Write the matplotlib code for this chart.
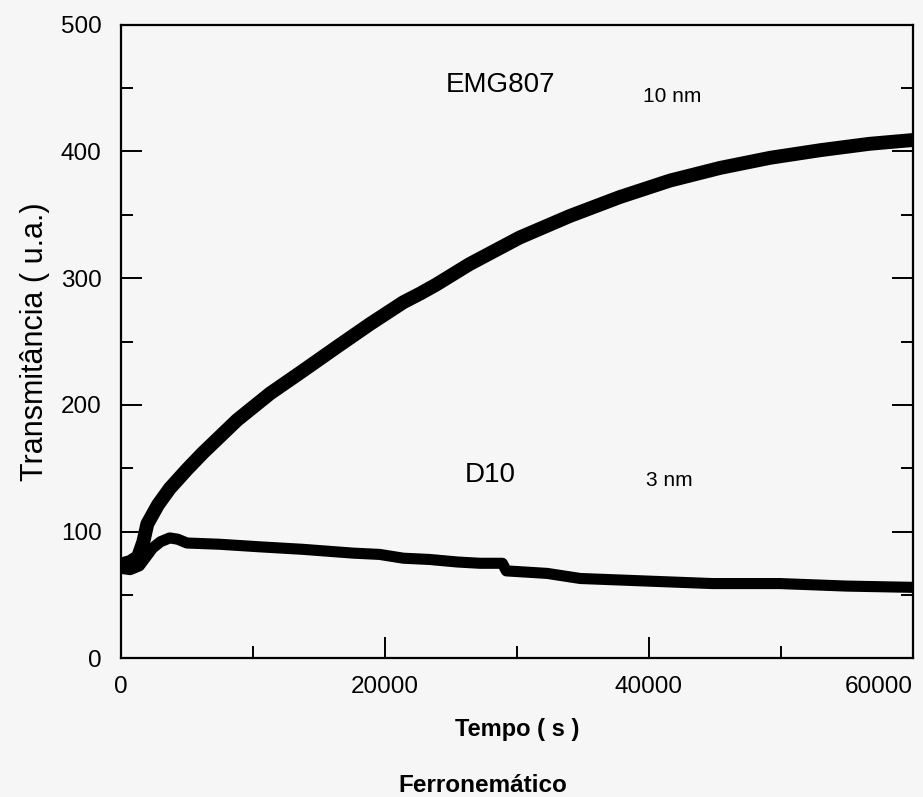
import numpy as np
import matplotlib.pyplot as plt
from matplotlib.ticker import MultipleLocator

# EMG807 (10 nm) transmittance vs time
t_emg = [0, 700, 1300, 1700, 2000, 2800, 3700, 5000, 6200, 7500, 8800, 11300,
         13800, 16400, 18900, 21400, 22700, 23900, 26400, 30200, 34000, 37800,
         41600, 45400, 49200, 53000, 56700, 60000]
y_emg = [74, 76, 80, 92, 106, 121, 134, 149, 162, 175, 188, 209,
         227, 246, 264, 281, 288, 295, 311, 332, 349, 364,
         377, 387, 395, 401, 406, 409]

# D10 (3 nm) transmittance vs time
t_d10 = [0, 700, 1400, 1900, 2400, 3000, 3700, 4300, 5000, 7500, 10500, 13800,
         17600, 19600, 21400, 23400, 25500, 27200, 28900, 29200, 32300, 34800,
         39800, 44800, 49900, 55000, 60000]
y_d10 = [71, 70, 73, 80, 87, 92, 95, 94, 91, 90, 88, 86,
         83, 82, 79, 78, 76, 75, 75, 69, 67, 63,
         61, 59, 59, 57, 56]

plt.rcParams['font.family'] = ['Liberation Sans', 'DejaVu Sans']

fig = plt.figure(figsize=(9.23, 7.97), dpi=100, facecolor='#f6f6f6')
ax = fig.add_axes([0.131, 0.174, 0.858, 0.795])
ax.set_facecolor('#f6f6f6')

ax.plot(t_emg, y_emg, color='black', lw=10, solid_capstyle='butt', solid_joinstyle='round')
ax.plot(t_d10, y_d10, color='black', lw=8, solid_capstyle='butt', solid_joinstyle='round')

ax.set_xlim(0, 60000)
ax.set_ylim(0, 500)
ax.set_xticks([0, 20000, 40000, 60000])
ax.xaxis.set_minor_locator(MultipleLocator(10000))
ax.yaxis.set_major_locator(MultipleLocator(100))
ax.yaxis.set_minor_locator(MultipleLocator(50))
ax.tick_params(which='both', direction='in', right=True, top=False, width=1.4,
               labelsize=17.5)
ax.tick_params(axis='x', pad=13)
ax.tick_params(axis='y', pad=14)
ax.tick_params(which='major', length=15)
ax.tick_params(which='minor', length=8.5)
for s in ax.spines.values():
    s.set_linewidth(1.6)

# last x label sits flush with the right edge
ax.xaxis.get_major_ticks()[-1].label1.set_horizontalalignment('right')

ax.set_ylabel('Transmitância ( u.a.)', fontsize=22, labelpad=8)
ax.set_xlabel('Tempo ( s )', fontsize=17, fontweight='bold', labelpad=14)
fig.text(0.523, 0.006, 'Ferronemático', fontsize=17.5, fontweight='bold', ha='center')

ax.text(0.479, 0.905, 'EMG807', transform=ax.transAxes, fontsize=20,
        ha='center', va='center')
ax.text(0.696, 0.886, '10 nm', transform=ax.transAxes, fontsize=15,
        ha='center', va='center')
ax.text(0.467, 0.289, 'D10', transform=ax.transAxes, fontsize=20,
        ha='center', va='center')
ax.text(0.693, 0.281, '3 nm', transform=ax.transAxes, fontsize=15,
        ha='center', va='center')

fig.savefig('out.png', dpi=100, facecolor=fig.get_facecolor())
